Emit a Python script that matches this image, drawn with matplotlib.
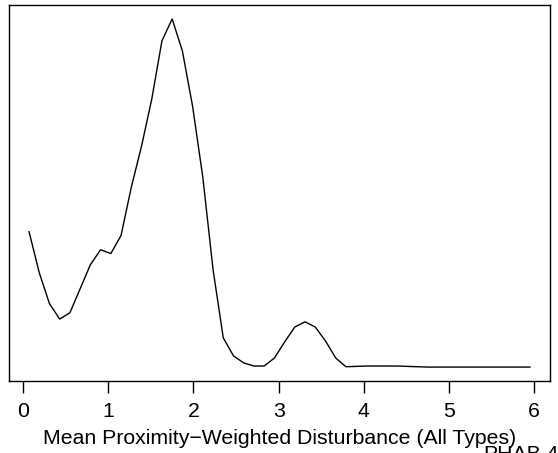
"""Density-style curve of mean proximity-weighted disturbance (R base-plot look)."""
import matplotlib
matplotlib.use("Agg")
import matplotlib.pyplot as plt

plt.rcParams["font.family"] = ["Liberation Sans", "DejaVu Sans"]

# evaluation grid and curve height (relative)
x_vals = [0.07, 0.19, 0.31, 0.43, 0.55, 0.67, 0.79, 0.91, 1.03, 1.15,
          1.27, 1.39, 1.51, 1.63, 1.75, 1.87, 1.99, 2.11, 2.23, 2.35,
          2.47, 2.59, 2.71, 2.83, 2.95, 3.07, 3.19, 3.31, 3.43, 3.55,
          3.67, 3.79, 3.91, 4.03, 4.15, 4.27, 4.39, 4.51, 4.63, 4.75,
          4.87, 4.99, 5.11, 5.23, 5.35, 5.47, 5.59, 5.71, 5.83, 5.95]
y_vals = [0.389, 0.271, 0.182, 0.138, 0.156, 0.225, 0.294, 0.337, 0.326, 0.378,
          0.516, 0.634, 0.769, 0.937, 1.000, 0.908, 0.749, 0.545, 0.280, 0.084,
          0.032, 0.012, 0.003, 0.003, 0.026, 0.072, 0.115, 0.130, 0.115, 0.075,
          0.026, 0.001, 0.002, 0.003, 0.003, 0.003, 0.003, 0.002, 0.001, 0.000,
          0.000, 0.000, 0.000, 0.000, 0.000, 0.000, 0.000, 0.000, 0.000, 0.000]
x_ticks = [0, 1, 2, 3, 4, 5, 6]
x_label = "Mean Proximity\u2212Weighted Disturbance (All Types)"
corner_text = "PHAB.4"

fig = plt.figure(figsize=(5.58, 4.53), dpi=100)
ax = fig.add_axes([9 / 558, 72 / 453, 541 / 558, 376 / 453])

ax.plot(x_vals, y_vals, color="black", lw=1.0)
ax.margins(x=0.04, y=0.04)

ax.set_xticks(x_ticks)
ax.set_xticklabels([str(t) for t in x_ticks])
ax.set_yticks([])
ax.tick_params(axis="x", direction="out", length=8.6, width=1.0,
               pad=6.5, labelsize=15.3)
for s in ax.spines.values():
    s.set_linewidth(1.0)

fig.text(279.5 / 558, (453 - 444) / 453, x_label, ha="center", va="baseline",
         fontsize=15.3)
fig.text(483 / 558, (453 - 445) / 453, corner_text, ha="left", va="top",
         fontsize=15.3)

fig.savefig("out.png", dpi=100)
